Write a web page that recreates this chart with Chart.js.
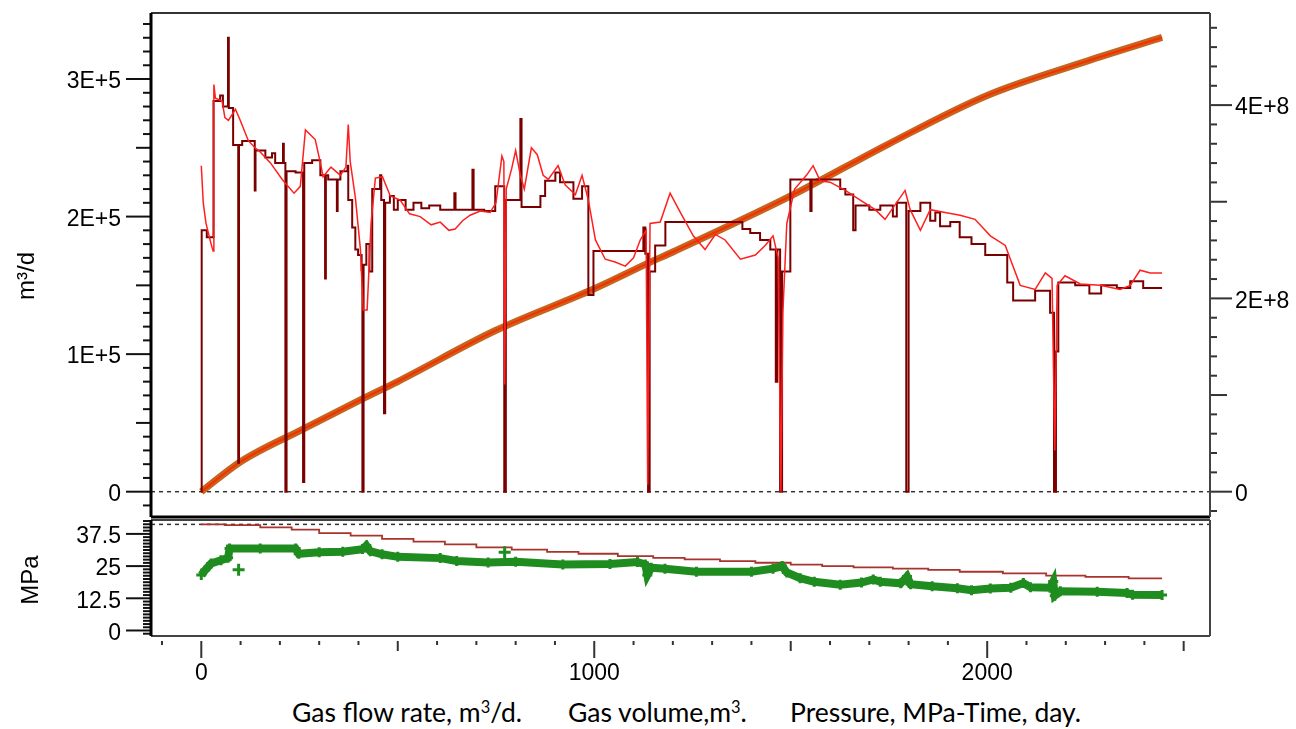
<!DOCTYPE html>
<html lang="en">
<head>
<meta charset="utf-8">
<title>Gas flow rate, gas volume and pressure vs time</title>
<script src="https://cdn.jsdelivr.net/npm/chart.js@4.4.1/dist/chart.umd.min.js"></script>
<style>
  html, body { margin: 0; padding: 0; background: #fff; }
  body { position: relative; width: 1296px; height: 729px; overflow: hidden;
         font-family: "Liberation Sans", Arial, sans-serif; color: #000; }
  .panel { position: absolute; left: 0; width: 1296px; }
  #panel-rate { top: 0; height: 522px; }
  #panel-pres { top: 515px; height: 181px; }
  .ytitle { position: absolute; transform: translate(-50%, -50%) rotate(-90deg);
            font-size: 24px; line-height: 1; white-space: nowrap; }
  .caption { position: absolute; top: 697px; font-family: Lato, "Open Sans", sans-serif;
             font-size: 26.5px; line-height: 30px; white-space: nowrap; }
  .caption sup { font-size: 0.62em; vertical-align: 0.55em; line-height: 0; }
</style>
</head>
<body>
  <div class="panel" id="panel-rate"><canvas id="chart-rate"></canvas></div>
  <div class="panel" id="panel-pres"><canvas id="chart-pres"></canvas></div>

  <div class="ytitle" style="left:26px; top:276px;">m³/d</div>
  <div class="ytitle" style="left:30px; top:580px;">MPa</div>

  <div class="caption" style="left:292px;">Gas flow rate, m<sup>3</sup>/d.</div>
  <div class="caption" style="left:568px;">Gas volume,m<sup>3</sup>.</div>
  <div class="caption" style="left:790px;">Pressure, MPa-Time, day.</div>

<script>
'use strict';

// ── Data ──────────────────────────────────────────────────────
const X_MIN = -128;
const X_MAX = 2567;

// measured gas flow rate: [day, m³/d ×1e5], drawn as a step line
const measRate = [
  [0,0],[1,1.90],[14,1.85],[31,2.84],[48,2.88],[55,2.80],[68,3.30],[70,2.79],[81,2.52],
  [94,0.21],[96,2.52],[104,2.55],[136,2.19],[138,2.48],[163,2.43],[180,2.46],[188,2.39],
  [208,2.53],[210,2.39],[214,0],[217,2.33],[240,2.32],[259,0.07],[262,2.39],[282,2.41],
  [303,2.30],[315,1.55],[317,2.30],[323,2.27],[345,2.04],[347,2.27],[354,2.33],[372,2.37],
  [374,2.12],[384,1.92],[392,1.76],[399,1.72],[408,1.61],[410,0],[413,1.65],[420,1.80],
  [428,1.60],[435,2.20],[455,2.30],[458,2.12],[465,0.57],[468,2.10],[480,2.15],[490,2.05],
  [500,2.12],[520,2.05],[540,2.10],[560,2.06],[580,2.08],[608,2.05],[644,2.17],[647,2.05],
  [690,2.34],[693,2.05],[720,2.04],[748,2.22],[771,0],[775,2.12],[812,2.71],[815,2.07],
  [863,2.15],[875,2.26],[901,2.32],[913,2.25],[947,2.13],[969,2.22],[985,1.43],[998,1.75],
  [1125,1.92],[1130,1.73],[1137,0],[1141,1.60],[1155,1.79],[1181,1.96],[1377,1.91],
  [1397,1.88],[1422,1.83],[1448,1.76],[1462,0.80],[1466,1.76],[1473,0],[1478,1.60],
  [1499,2.27],[1550,2.04],[1553,2.27],[1626,2.20],[1639,2.16],[1659,1.90],[1665,2.08],
  [1700,2.05],[1728,2.08],[1760,2.00],[1770,2.10],[1794,0],[1800,2.04],[1830,2.10],
  [1855,1.97],[1868,2.03],[1880,1.93],[1906,1.96],[1930,1.85],[1960,1.80],[1995,1.72],
  [2051,1.52],[2066,1.39],[2122,1.46],[2160,1.30],[2170,0],[2175,1.02],[2181,1.52],
  [2224,1.50],[2260,1.44],[2290,1.50],[2330,1.48],[2364,1.53],[2397,1.48],[2445,1.48],
];

// calculated gas flow rate: [day, m³/d ×1e5]
const calcRate = [
  [0,2.37],[5,2.10],[12,1.95],[25,1.80],[30,1.75],[32,2.96],[36,2.86],[53,2.84],[60,2.72],
  [69,2.70],[87,2.78],[99,2.70],[120,2.55],[137,2.50],[150,2.47],[176,2.39],[206,2.27],
  [236,2.17],[252,2.22],[265,2.63],[290,2.56],[303,2.39],[310,2.29],[330,2.36],[354,2.30],
  [368,2.36],[374,2.67],[379,2.40],[392,2.14],[405,1.76],[412,1.32],[422,1.32],[432,1.95],
  [443,2.28],[461,2.29],[481,2.15],[506,2.12],[530,2.02],[557,2.00],[585,1.94],[608,1.96],
  [630,1.90],[646,1.91],[665,1.97],[684,2.01],[710,2.04],[735,2.03],[750,2.10],[765,2.44],
  [770,2.40],[772,0.78],[776,2.20],[790,2.35],[800,2.48],[812,2.30],[822,2.20],[840,2.50],
  [855,2.45],[870,2.30],[883,2.27],[908,2.37],[926,2.23],[952,2.16],[969,2.30],[985,2.12],
  [1003,1.83],[1028,1.69],[1053,1.67],[1079,1.64],[1100,1.70],[1117,1.83],[1132,1.90],
  [1136,0.05],[1142,1.95],[1168,1.96],[1193,2.17],[1219,2.03],[1252,1.86],[1282,1.76],
  [1308,1.87],[1333,1.83],[1372,1.69],[1410,1.72],[1435,1.79],[1455,1.86],[1468,1.70],
  [1475,0],[1480,1.30],[1490,1.95],[1510,2.20],[1540,2.30],[1557,2.37],[1575,2.26],
  [1600,2.25],[1639,2.19],[1677,2.12],[1715,2.05],[1740,1.98],[1791,2.19],[1804,2.05],
  [1830,1.90],[1855,2.05],[1893,2.03],[1931,2.01],[1969,1.98],[2008,1.86],[2046,1.79],
  [2059,1.69],[2084,1.50],[2122,1.47],[2148,1.59],[2165,1.55],[2172,0.30],[2178,1.50],
  [2198,1.57],[2237,1.51],[2288,1.50],[2338,1.47],[2364,1.50],[2389,1.61],[2415,1.59],
  [2445,1.59],
];

// cumulative gas volume: [day, m³ ×1e8] (right axis)
const cumVolume = [
  [0,0],[100,0.31],[250,0.63],[410,0.96],[500,1.14],[750,1.67],[1000,2.10],[1140,2.37],
  [1200,2.48],[1500,3.06],[1750,3.60],[2000,4.10],[2250,4.45],[2445,4.70],
];

// lower panel: stepped reference pressure [day, MPa]
const stepPressure = [
  [0,41.2],[60,40.9],[150,40.0],[230,39.2],[300,37.8],[380,36.8],[460,35.6],[540,34.5],
  [620,33.4],[700,32.3],[790,31.4],[880,30.5],[960,29.8],[1060,28.9],[1150,28.2],
  [1230,27.6],[1320,26.9],[1410,26.3],[1500,25.6],[1580,25.0],[1660,24.5],[1760,24.0],
  [1850,23.5],[1930,22.8],[2040,22.2],[2150,21.3],[2250,20.8],[2360,20.2],[2445,20.2],
];

// lower panel: measured pressure [day, MPa]
const wellPressure = [
  [0,21.5],[10,23.5],[25,26.0],[50,27.3],[68,28.2],[72,31.8],[150,31.8],[240,31.8],
  [248,29.8],[300,30.4],[360,30.6],[410,31.6],[420,33.0],[430,30.8],[460,29.6],[500,28.6],
  [608,28.1],[650,27.0],[730,26.4],[800,26.7],[920,25.6],[1040,25.8],[1110,26.6],
  [1130,25.6],[1135,21.5],[1145,24.4],[1180,24.0],[1260,22.8],[1400,22.8],[1455,24.0],
  [1478,25.0],[1490,22.5],[1524,20.3],[1560,18.9],[1626,17.8],[1680,18.6],[1710,19.8],
  [1728,18.9],[1780,18.3],[1796,21.0],[1805,18.0],[1860,17.2],[1924,16.4],[1960,15.6],
  [2008,16.3],[2060,16.6],[2092,18.4],[2110,16.8],[2160,16.6],[2168,19.0],[2172,13.5],
  [2186,15.2],[2280,15.0],[2356,14.6],[2370,13.9],[2445,13.8],
];
const pressureStrays = [[95,23.6],[772,30.4]];

const RATE_REF = 0;      // dotted line, upper panel
const PRES_REF = 41.2;   // dotted line, lower panel

// ── Axes ──────────────────────────────────────────────────────
const rateTicks  = [0, 1e5, 2e5, 3e5];
const rateLabels = ['0', '1E+5', '2E+5', '3E+5'];
const volTicks   = [0, 2e8, 4e8];
const volLabels  = ['0', '2E+8', '4E+8'];
const presTicks  = [0, 12.5, 25, 37.5];
const presLabels = ['0', '12.5', '25', '37.5'];
const dayTicks   = [0, 1000, 2000];
const dayLabels  = ['0', '1000', '2000'];

const RATE_RANGE = [-18400, 348000];
const VOL_RANGE  = [-26200000, 495300000];
const PRES_RANGE = [-2.14, 42.9];

const LEFT_W  = 151;
const RIGHT_W = 86;
const TICK_FONT = { family: '"Liberation Sans", Arial, sans-serif', size: 23 };

// ── Helpers ───────────────────────────────────────────────────
function el(id) { return document.getElementById(id); }

function pts(pairs, k = 1) {
  return pairs.map(([x, y]) => ({ x, y: y * k }));
}

function flatLine(y) {
  return [{ x: X_MIN, y }, { x: X_MAX, y }];
}

// pin a scale's box size and drop the label overhang padding
function pinSize(prop, size) {
  return (s) => {
    s[prop] = size;
    s.paddingTop = s.paddingBottom = s.paddingLeft = s.paddingRight = 0;
  };
}

function fixedAxis(values, labels, extra) {
  return Object.assign({
    afterBuildTicks: (s) => { s.ticks = values.map((v) => ({ value: v })); },
    grid: { display: false, drawTicks: false },
    border: { display: false },
    ticks: {
      font: TICK_FONT,
      color: '#000',
      callback: (v) => labels[values.indexOf(v)] ?? '',
    },
  }, extra);
}

function tickRun(scale, side, from, to, step, lenOf, gap = 0) {
  const out = [];
  for (let i = from; i <= to; i++) out.push({ scale, side, value: i * step, len: lenOf(i), gap });
  return out;
}

// frame edges and tick marks drawn from the chart's own scales
const framePlugin = {
  id: 'frame',
  afterDraw(chart, args, opts) {
    const { ctx, chartArea: a } = chart;
    const seg = (x1, y1, x2, y2, w, c) => {
      ctx.beginPath();
      ctx.lineWidth = w;
      ctx.strokeStyle = c;
      ctx.moveTo(x1, y1);
      ctx.lineTo(x2, y2);
      ctx.stroke();
    };
    ctx.save();
    (opts.ticks || []).forEach((t) => {
      const p = chart.scales[t.scale].getPixelForValue(t.value);
      if (t.side === 'left')   seg(a.left - t.len, p, a.left, p, 2, '#111');
      if (t.side === 'right')  seg(a.right + 1 + t.gap, p, a.right + 1 + t.gap + t.len, p, 2, '#333');
      if (t.side === 'bottom') seg(p, a.bottom + t.gap, p, a.bottom + t.gap + t.len, 2, '#333');
    });
    (opts.edges || []).forEach((e) => {
      if (e.side === 'top')    seg(a.left, a.top, a.right, a.top, e.w, e.c);
      if (e.side === 'bottom') seg(a.left, a.bottom, a.right, a.bottom, e.w, e.c);
      if (e.side === 'left')   seg(a.left, a.top, a.left, a.bottom, e.w, e.c);
      if (e.side === 'right')  seg(a.right, a.top, a.right, a.bottom, e.w, e.c);
    });
    ctx.restore();
  },
};

const common = {
  responsive: true,
  maintainAspectRatio: false,
  animation: false,
  events: [],
  plugins: { legend: { display: false }, tooltip: { enabled: false } },
  elements: { point: { radius: 0 }, line: { tension: 0 } },
};

// ── Upper panel: rates + cumulative volume ────────────────────
function buildRateChart() {
  return new Chart(el('chart-rate'), {
    type: 'line',
    plugins: [framePlugin],
    data: {
      datasets: [
        { data: flatLine(RATE_REF), yAxisID: 'yRate', borderColor: '#333', borderWidth: 1.5,
          borderDash: [4, 4], order: 6 },
        { data: pts(cumVolume, 1e8), yAxisID: 'yVol', borderColor: '#c2661e', borderWidth: 7,
          cubicInterpolationMode: 'monotone', order: 5 },
        { data: pts(cumVolume, 1e8), yAxisID: 'yVol', borderColor: '#ff2a00', borderWidth: 2,
          cubicInterpolationMode: 'monotone', order: 4 },
        { data: pts(measRate, 1e5), yAxisID: 'yRate', stepped: true, borderColor: '#7a0000',
          borderWidth: 2, order: 3 },
        { data: pts(calcRate, 1e5), yAxisID: 'yRate', borderColor: '#ff1f1f', borderWidth: 1.5, order: 2 },
      ],
    },
    options: Object.assign({}, common, {
      layout: { autoPadding: false, padding: { top: 13, bottom: 5, left: 0, right: 0 } },
      scales: {
        x: { type: 'linear', min: X_MIN, max: X_MAX, display: false },
        yRate: fixedAxis(rateTicks, rateLabels, {
          position: 'left', min: RATE_RANGE[0], max: RATE_RANGE[1],
          afterFit: pinSize('width', LEFT_W),
        }),
        yVol: fixedAxis(volTicks, volLabels, {
          position: 'right', min: VOL_RANGE[0], max: VOL_RANGE[1],
          afterFit: pinSize('width', RIGHT_W),
        }),
      },
      plugins: Object.assign({}, common.plugins, {
        frame: {
          edges: [
            { side: 'top', w: 2, c: '#333' },
            { side: 'bottom', w: 3, c: '#000' },
            { side: 'right', w: 2, c: '#444' },
            { side: 'left', w: 3, c: '#000' },
          ],
          ticks: [
            ...tickRun('yRate', 'left', -1, 34, 1e4, (i) => (i % 10 === 0 ? 25 : i % 5 === 0 ? 15 : 8)),
            ...tickRun('yVol', 'right', -1, 24, 2e7, (i) => (i % 10 === 0 ? 21 : i % 5 === 0 ? 16 : 6)),
          ],
        },
      }),
    }),
  });
}

// ── Lower panel: pressure ─────────────────────────────────────
function buildPressureChart() {
  return new Chart(el('chart-pres'), {
    type: 'line',
    plugins: [framePlugin],
    data: {
      datasets: [
        { data: flatLine(PRES_REF), yAxisID: 'yPres', borderColor: '#333', borderWidth: 1.5,
          borderDash: [4, 4], order: 5 },
        { data: pts(stepPressure), yAxisID: 'yPres', stepped: true, borderColor: '#a8342e',
          borderWidth: 1.8, order: 4 },
        { data: pts(wellPressure), yAxisID: 'yPres', borderColor: '#1f8c1f', borderWidth: 8,
          pointStyle: 'cross', pointRadius: 5, pointBorderWidth: 3, pointBorderColor: '#1f8c1f', order: 3 },
        { data: pts(pressureStrays), yAxisID: 'yPres', showLine: false, pointStyle: 'cross',
          pointRadius: 6, pointBorderWidth: 3, pointBorderColor: '#1f8c1f', order: 2 },
      ],
    },
    options: Object.assign({}, common, {
      layout: { autoPadding: false, padding: { top: 5, bottom: 0, left: 0, right: RIGHT_W } },
      scales: {
        x: fixedAxis(dayTicks, dayLabels, {
          type: 'linear', position: 'bottom', min: X_MIN, max: X_MAX,
          afterFit: pinSize('height', 60),
        }),
        yPres: fixedAxis(presTicks, presLabels, {
          position: 'left', min: PRES_RANGE[0], max: PRES_RANGE[1],
          afterFit: pinSize('width', LEFT_W),
        }),
      },
      plugins: Object.assign({}, common.plugins, {
        frame: {
          edges: [
            { side: 'top', w: 1.5, c: '#000' },
            { side: 'bottom', w: 2, c: '#444' },
            { side: 'right', w: 2, c: '#444' },
            { side: 'left', w: 3, c: '#000' },
          ],
          ticks: [
            ...tickRun('yPres', 'left', -1, 34, 1.25, (i) => (i % 10 === 0 ? 25 : 8)),
            ...tickRun('x', 'bottom', -1, 25, 100, (i) => (i % 10 === 0 ? 17 : i % 5 === 0 ? 10 : 4), 5),
          ],
        },
      }),
    }),
  });
}

// tick label spacing
function tuneLabels(chart, pads) {
  Object.entries(pads).forEach(([id, p]) => {
    const t = chart.options.scales[id].ticks;
    t.padding = p.padding;
    if (p.labelOffset != null) t.labelOffset = p.labelOffset;
  });
  chart.update('none');
}

// ── Init ──────────────────────────────────────────────────────
const rateChart = buildRateChart();
const presChart = buildPressureChart();
tuneLabels(rateChart, { yRate: { padding: 30, labelOffset: 3 }, yVol: { padding: 25, labelOffset: 3 } });
tuneLabels(presChart, { yPres: { padding: 30, labelOffset: 3 }, x: { padding: 24 } });
</script>
</body>
</html>
